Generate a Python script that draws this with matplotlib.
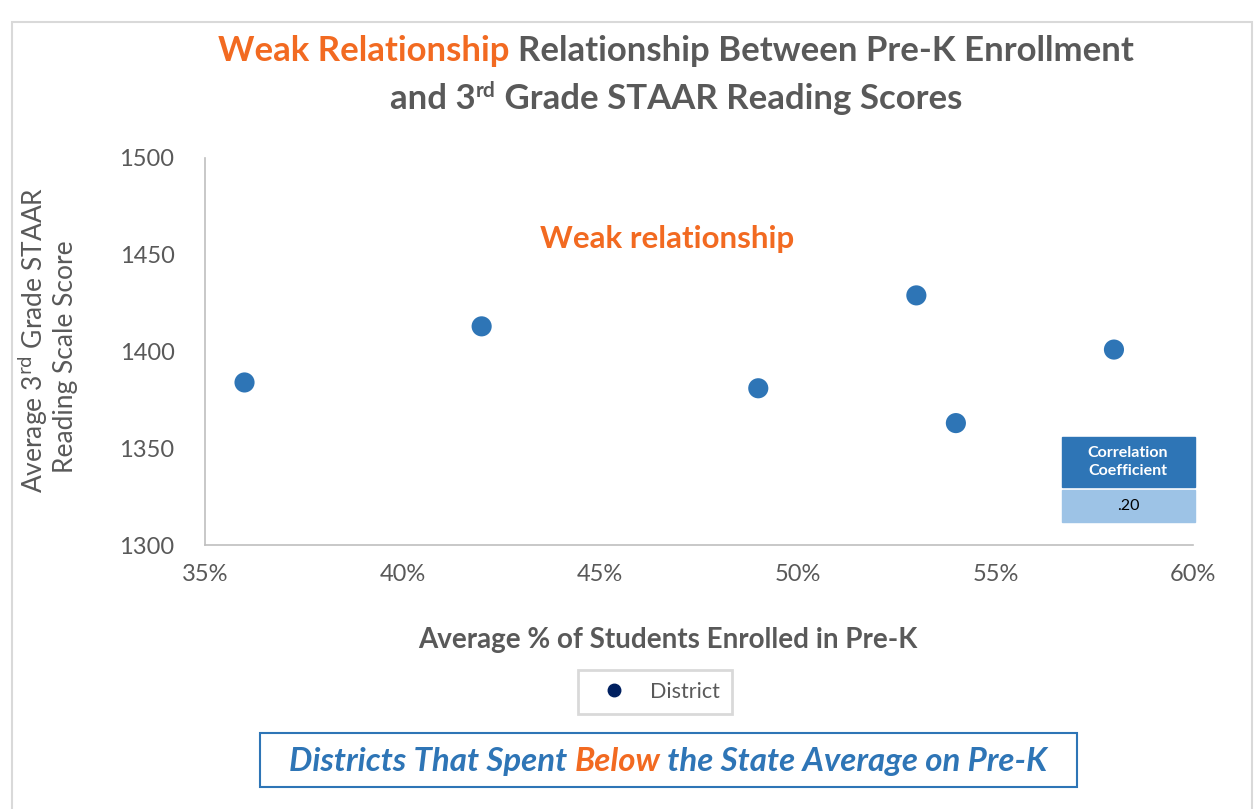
import matplotlib
matplotlib.use("Agg")
import matplotlib.pyplot as plt
from matplotlib.patches import Rectangle
from matplotlib.lines import Line2D
from matplotlib.ticker import FuncFormatter

# data
prek_pct = [36, 42, 49, 53, 54, 58]
reading_score = [1384, 1413, 1381, 1429, 1363, 1401]
x_ticks = [35, 40, 45, 50, 55, 60]
y_ticks = [1300, 1350, 1400, 1450, 1500]
corr_label = "Correlation\nCoefficient"
corr_value = ".20"

ORANGE = "#F26A21"
GRAY = "#595959"
BLUE = "#2E75B6"
LIGHTBLUE = "#9DC3E6"
NAVY = "#002060"

plt.rcParams['font.family'] = ['Lato', 'DejaVu Sans']

W, H = 1255, 809
fig = plt.figure(figsize=(W / 100, H / 100), dpi=100)


def fx(px):
    return px / W


def fy(py):
    return 1 - py / H


# outer frame
fig.patches.append(Rectangle((fx(12), fy(812)), fx(1252) - fx(12), fy(22) - fy(812),
                             transform=fig.transFigure, fill=False, ec="#D9D9D9", lw=1.5))

ax = fig.add_axes([fx(205), fy(545), fx(1193) - fx(205), fy(158) - fy(545)])
ax.scatter(prek_pct, reading_score, s=210, color=BLUE, zorder=3, edgecolors="none")
ax.set_xlim(35, 60)
ax.set_ylim(1300, 1500)
ax.set_xticks(x_ticks)
ax.set_yticks(y_ticks)
ax.xaxis.set_major_formatter(FuncFormatter(lambda v, p: f"{v:.0f}%"))
ax.tick_params(length=0, labelsize=17, colors=GRAY, pad=14)
ax.tick_params(axis='y', pad=22)
for side in ["top", "right"]:
    ax.spines[side].set_visible(False)
for side in ["left", "bottom"]:
    ax.spines[side].set_color("#BFBFBF")
    ax.spines[side].set_linewidth(1.2)

ax.text(46.7, 1458, "Weak relationship", color=ORANGE, fontsize=22.5, fontweight="bold",
        ha="center", va="center")

renderer = fig.canvas.get_renderer()


def rich_line(pieces, cx, cy, **kw):
    # pieces: (text, color, extra kwargs, dy in px)
    texts = []
    for s, c, extra, dy in pieces:
        t = fig.text(0, fy(cy - dy), s, color=c, va="baseline", ha="left", **{**kw, **extra})
        texts.append(t)
    widths = [t.get_window_extent(renderer).width for t in texts]
    x = cx - sum(widths) / 2
    for t, w in zip(texts, widths):
        t.set_x(fx(x))
        x += w


title_kw = dict(fontsize=25, fontweight="bold")
rich_line([("Weak Relationship ", ORANGE, {}, 0),
           ("Relationship Between Pre-K Enrollment", GRAY, {}, 0)], 676, 61, **title_kw)
rich_line([("and 3", GRAY, {}, 0),
           ("rd", GRAY, {"fontsize": 15}, 12),
           (" Grade STAAR Reading Scores", GRAY, {}, 0)], 676, 109, **title_kw)

# y label, two lines, rotated
ylab_kw = dict(fontsize=19, rotation=90, va="center", ha="center", color=GRAY)
fig.text(fx(33), fy(340), "Average 3$^{\\mathrm{rd}}$ Grade STAAR", **ylab_kw)
fig.text(fx(66), fy(357), "Reading Scale Score", **ylab_kw)

fig.text(fx(668), fy(640), "Average % of Students Enrolled in Pre-K", fontsize=20,
         fontweight="bold", color=GRAY, ha="center", va="center")

# legend
handle = Line2D([], [], marker="o", ls="none", color=NAVY, markersize=9)
leg = fig.legend([handle], ["District"], loc="center", bbox_to_anchor=(fx(655), fy(692)),
                 fontsize=15.5, frameon=True, fancybox=False, handletextpad=0.6,
                 borderpad=0.55, borderaxespad=0, handlelength=2.2)
leg.get_frame().set_edgecolor("#D0D0D0")
leg.get_frame().set_linewidth(2)
for t in leg.get_texts():
    t.set_color(GRAY)

# correlation table
fig.patches.append(Rectangle((fx(1062), fy(487)), fx(1195) - fx(1062), fy(437) - fy(487),
                             transform=fig.transFigure, color=BLUE))
fig.patches.append(Rectangle((fx(1062), fy(522)), fx(1195) - fx(1062), fy(490) - fy(522),
                             transform=fig.transFigure, color=LIGHTBLUE))
fig.text(fx(1128), fy(462), corr_label, color="white", fontsize=11.5, fontweight="bold",
         ha="center", va="center", linespacing=1.35)
fig.text(fx(1128), fy(506), corr_value, color="black", fontsize=11.5, ha="center", va="center")

# bottom banner
fig.patches.append(Rectangle((fx(260), fy(787)), fx(1077) - fx(260), fy(733) - fy(787),
                             transform=fig.transFigure, fill=False, ec=BLUE, lw=1.5))
banner_kw = dict(fontsize=23.8, fontweight="bold", fontstyle="italic")
rich_line([("Districts That Spent ", BLUE, {}, 0),
           ("Below", ORANGE, {}, 0),
           (" the State Average on Pre-K", BLUE, {}, 0)], 668, 771, **banner_kw)

fig.savefig("out.png", dpi=100)
